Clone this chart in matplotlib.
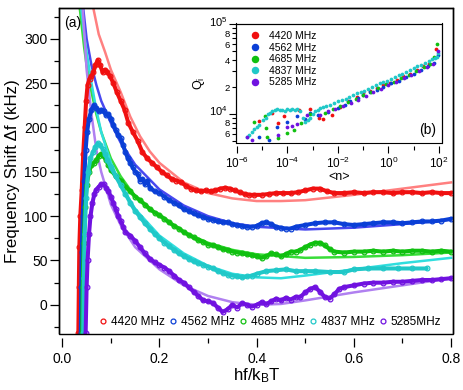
import numpy as np
import matplotlib
matplotlib.use("Agg")
import matplotlib.pyplot as plt
import matplotlib.transforms as mtransforms
from matplotlib.patches import Rectangle
from matplotlib.ticker import MultipleLocator, FixedLocator, FuncFormatter, NullFormatter

plt.rcParams['font.family'] = ['Liberation Sans', 'DejaVu Sans']
plt.rcParams['mathtext.fontset'] = 'custom'
plt.rcParams['mathtext.rm'] = 'Liberation Sans'
plt.rcParams['mathtext.it'] = 'Liberation Sans:italic'

labels = ["4420 MHz", "4562 MHz", "4685 MHz", "4837 MHz", "5285MHz"]
inset_labels = ["4420 MHz", "4562 MHz", "4685 MHz", "4837 MHz", "5285 MHz"]
data_colors = ["#f01010", "#0a3fd6", "#10c010", "#20c8c8", "#7012e0"]
fit_colors = ["#ff8080", "#4848f0", "#38dd38", "#30dede", "#b080f0"]

# ---- main panel: measured frequency shift (kHz) vs hf/kBT ----
red_x = [0.033,0.034,0.035,0.037,0.04,0.043,0.046,0.049,0.052,0.056,0.06,0.064,0.068,0.073,0.078,0.083,0.088,0.093,0.098,0.105,0.112,0.12,0.128,0.136,0.145,0.155,0.165,0.175,0.185,0.195,0.205,0.215,0.225,0.235,0.245,0.255,0.265,0.275,0.285,0.295,0.305,0.315,0.325,0.335,0.345,0.355,0.365,0.375,0.385,0.395,0.41,0.425,0.44,0.455,0.47,0.485,0.5,0.515,0.53,0.545,0.56,0.58,0.6,0.62,0.64,0.66,0.68,0.7,0.72,0.74,0.76,0.78,0.8]
red_y = [-32,20,65,100,130,170,200,230,248,255,258,262,270,276,270,262,265,262,258,250,240,230,220,205,195,185,172,165,160,155,150,146,142,140,138,134,131,129,128,129,128,129,131,132,131,129,127,125,124,124,124,125,126,126,126,127,129,131,131,128,126,126,127,126,127,127,126,127,127,126,127,126,126]

blue_x = [0.038,0.039,0.04,0.042,0.045,0.048,0.051,0.055,0.06,0.065,0.07,0.075,0.08,0.085,0.09,0.095,0.1,0.105,0.11,0.115,0.12,0.125,0.13,0.135,0.14,0.145,0.15,0.155,0.16,0.165,0.17,0.175,0.18,0.19,0.2,0.21,0.22,0.23,0.24,0.25,0.26,0.27,0.28,0.29,0.3,0.31,0.32,0.33,0.34,0.35,0.36,0.37,0.38,0.39,0.4,0.41,0.42,0.43,0.44,0.45,0.46,0.47,0.48,0.5,0.52,0.54,0.56,0.58,0.6,0.62,0.64,0.66,0.68,0.7,0.72,0.74,0.76,0.78,0.8]
blue_y = [-32,20,60,100,140,175,195,210,220,225,222,218,220,218,214,215,210,203,197,192,188,180,172,165,160,155,150,148,140,142,136,140,132,128,126,122,118,115,112,108,106,103,101,99,97,96,94,93,93,91,90,89,88,88,89,92,93,91,88,87,86,86,88,90,92,93,93,91,90,91,92,93,93,92,93,94,94,95,97]

green_x = [0.041,0.042,0.044,0.047,0.05,0.055,0.06,0.065,0.07,0.075,0.08,0.085,0.09,0.095,0.1,0.11,0.12,0.13,0.14,0.15,0.16,0.17,0.18,0.19,0.2,0.21,0.22,0.23,0.24,0.25,0.26,0.27,0.28,0.29,0.3,0.31,0.32,0.33,0.34,0.35,0.36,0.37,0.38,0.39,0.4,0.41,0.42,0.43,0.44,0.45,0.46,0.47,0.48,0.49,0.5,0.51,0.52,0.53,0.54,0.55,0.56,0.58,0.6,0.62,0.64,0.66,0.68,0.7,0.72,0.74,0.76,0.78,0.8]
green_y = [-32,20,70,110,135,150,158,160,163,168,170,168,163,158,152,145,140,133,128,122,118,113,108,104,101,97,93,89,86,82,79,76,73,71,68,67,65,63,62,60,59,58,57,56,55,53,55,58,57,55,57,60,60,62,65,68,70,70,67,63,60,59,60,60,61,60,61,60,61,61,60,61,60]

cyan_x = [0.043,0.044,0.046,0.049,0.053,0.058,0.063,0.068,0.073,0.078,0.083,0.088,0.093,0.1,0.11,0.12,0.13,0.14,0.15,0.16,0.17,0.18,0.19,0.2,0.21,0.22,0.23,0.24,0.25,0.26,0.27,0.28,0.29,0.3,0.31,0.32,0.33,0.34,0.35,0.36,0.37,0.38,0.39,0.4,0.42,0.44,0.46,0.48,0.5,0.52,0.55,0.58,0.6,0.63,0.66,0.69,0.72,0.75]
cyan_y = [-32,30,80,120,150,165,172,178,182,180,176,170,163,155,145,135,125,115,106,99,92,86,80,75,70,66,62,58,55,52,49,47,45,43,41,38,36,34,33,32,31,32,33,35,38,39,40,38,38,38,37,37,40,41,41,41,41,41]

purple_x = [0.048,0.05,0.052,0.055,0.058,0.062,0.066,0.07,0.075,0.08,0.085,0.09,0.095,0.1,0.105,0.11,0.115,0.12,0.125,0.13,0.14,0.15,0.16,0.17,0.18,0.19,0.2,0.21,0.22,0.23,0.24,0.25,0.26,0.27,0.28,0.29,0.3,0.31,0.32,0.33,0.34,0.35,0.36,0.37,0.38,0.39,0.4,0.41,0.42,0.43,0.44,0.45,0.46,0.47,0.48,0.49,0.5,0.51,0.52,0.53,0.54,0.55,0.56,0.57,0.58,0.6,0.62,0.64,0.66,0.68,0.7,0.72,0.74,0.76,0.78,0.8]
purple_y = [-32,20,50,80,100,115,125,130,133,136,136,132,128,122,115,108,100,95,88,82,78,72,65,58,52,48,45,42,38,33,28,25,20,15,10,5,4,2,-3,-8,-5,0,-3,2,0,-2,0,3,1,4,7,5,8,6,9,9,14,18,20,15,9,7,12,18,20,22,24,25,25,26,26,27,28,28,29,30]

# ---- main panel: model fits ----
red_fit_x = [0.064,0.075,0.088,0.1,0.12,0.14,0.16,0.18,0.2,0.25,0.3,0.35,0.4,0.45,0.5,0.6,0.7,0.8]
red_fit_y = [334,305,285,265,240,212,190,173,160,138,126,120,117,117,118,124,131,138]
blue_fit_x = [0.043,0.05,0.06,0.07,0.08,0.1,0.12,0.15,0.2,0.25,0.3,0.35,0.4,0.5,0.6,0.7,0.8]
blue_fit_y = [334,300,270,248,230,205,183,158,130,112,100,92,88,85,87,91,96]
green_fit_x = [0.036,0.045,0.05,0.06,0.07,0.08,0.1,0.12,0.15,0.2,0.25,0.3,0.35,0.4,0.5,0.6,0.7,0.8]
green_fit_y = [334,290,270,240,215,195,165,145,122,100,82,70,62,57,53,54,56,59]
cyan_fit_x = [0.039,0.045,0.05,0.06,0.07,0.08,0.1,0.12,0.15,0.2,0.25,0.3,0.35,0.4,0.45,0.5,0.6,0.7,0.8]
cyan_fit_y = [334,305,285,250,220,195,160,135,108,78,58,44,35,31,30,33,40,47,53]
purple_fit_x = [0.042,0.046,0.05,0.06,0.07,0.08,0.1,0.12,0.15,0.2,0.25,0.3,0.35,0.4,0.45,0.5,0.6,0.7,0.8]
purple_fit_y = [334,300,265,215,175,150,113,90,65,40,22,10,3,0,1,5,14,22,30]

# ---- inset: internal quality factor vs mean photon number ----
red_n = [7.8e-6,2.6e-5,4.4e-5,7.4e-5,3.0e-4,7.9e-4,1.8e-3,2.6e-3,5.6e-3,1.2e-2,2.5e-2,5.5e-2,0.1,0.19,0.34,0.62,1.1,2.1,3.8,7.1,13,24,40,76]
red_q = [8400,10200,7900,9500,11100,11500,9100,8900,9800,12000,13800,15500,17000,18200,19500,20900,22400,24000,26300,28200,30900,33900,36300,53700]
blue_n = [7.6e-6,1.95e-5,4.0e-5,1.0e-4,2.5e-4,5.0e-4,7.9e-4,1.6e-3,4.0e-3,1.0e-2,1.9e-2,3.0e-2,6.3e-2,0.1,0.19,0.34,0.63,1.26,2.5,5.0,10,20,35,63,89]
blue_q = [5500,5100,7200,8200,9500,8700,10200,9800,10500,11700,12600,13800,15100,16200,17400,18600,20000,21900,23400,25700,28200,30900,33900,37200,45700]
green_n = [5.0e-6,1.3e-5,1.5e-5,1.55e-5,4.4e-5,1.0e-4,1.8e-4,3.5e-4,7.9e-4,3.1e-3,6.3e-3,1.26e-2,2.5e-2,5.0e-2,0.1,0.2,0.4,0.8,1.6,3.2,6.3,12.6,25,45,63,85]
green_q = [8100,9500,6900,5600,5400,6200,6600,7900,10000,10200,11500,12300,13500,14800,16200,17800,19500,21400,22900,25100,27500,30200,33100,36300,43700,60300]
cyan_n = [2.5e-6,3.2e-6,3.9e-6,5.0e-6,6.2e-6,7.9e-6,1.1e-5,1.4e-5,1.8e-5,2.1e-5,2.5e-5,3.2e-5,3.8e-5,5.0e-5,6.3e-5,7.9e-5,1.0e-4,1.26e-4,1.6e-4,2.0e-4,2.5e-4,3.2e-4,4.0e-4,5.0e-4,6.3e-4,7.9e-4,1.0e-3,1.26e-3,1.6e-3,2.0e-3,2.6e-3,3.5e-3,5.0e-3,7.1e-3,1.0e-2,1.4e-2,2.0e-2,2.8e-2,4.0e-2,5.6e-2,7.9e-2,0.11,0.16,0.22,0.32,0.45,0.63,0.89,1.26,1.8,2.5,3.5,5.0,7.1,10,14,20,28,40,52,66,79,93]
cyan_q = [5600,5900,6300,6800,7200,7600,8500,9100,10000,10200,10700,11200,11500,11000,11200,10700,11500,11000,11500,11200,11500,10700,9100,8100,8500,9100,10000,10700,11200,11700,12000,12300,12600,13200,13800,14500,14800,15500,16200,17000,17400,18200,19100,20000,20900,21900,22600,23400,24500,25700,26900,28200,29500,30900,32400,33900,35500,37200,38900,40700,41700,42700,47900]
purple_n = [2.5e-6,3.9e-6,4.4e-5,1.0e-4,1.6e-4,2.5e-4,5.9e-4,1.95e-3,4.0e-3,7.9e-3,1.6e-2,3.2e-2,6.3e-2,0.126,0.25,0.5,1.0,2.0,4.0,7.9,15.8,32,56,89]
purple_q = [5600,5100,5900,7100,7400,7700,9800,9800,10700,11500,12300,13200,14500,15800,17400,19100,20900,22900,25100,27500,30200,33100,36300,50100]

W, H = 463, 390
fig = plt.figure(figsize=(W / 100, H / 100), dpi=100)

ax = fig.add_axes([59.3 / W, 1 - 333.5 / H, (453.3 - 59.3) / W, (333.5 - 8.3) / H])
series = [(red_x, red_y), (blue_x, blue_y), (green_x, green_y), (cyan_x, cyan_y), (purple_x, purple_y)]
fits = [(red_fit_x, red_fit_y), (blue_fit_x, blue_fit_y), (green_fit_x, green_fit_y),
        (cyan_fit_x, cyan_fit_y), (purple_fit_x, purple_fit_y)]
handles = []
for (xs, ys), (fx, fy), dc, fc, lab in zip(series, fits, data_colors, fit_colors, labels):
    ax.plot(fx, fy, color=fc, lw=1.8, zorder=2)
    ax.plot(xs, ys, color=dc, lw=2.9, zorder=3, solid_capstyle='round')
    ax.plot(xs, ys, ls='none', marker='o', ms=3.4, mfc='none', mec=dc, mew=0.9, zorder=3)
    h, = ax.plot([], [], ls='none', marker='o', ms=3.5, mfc='none', mec=dc, mew=0.9, label=lab)
    handles.append(h)

ax.set_xlim(-0.0062, 0.8047)
ax.set_ylim(-32.3, 334.3)
ax.xaxis.set_major_locator(MultipleLocator(0.2))
ax.xaxis.set_minor_locator(MultipleLocator(0.1))
ax.yaxis.set_major_locator(MultipleLocator(50))
ax.yaxis.set_minor_locator(MultipleLocator(25))
ax.xaxis.set_major_formatter(FuncFormatter(lambda v, p: f"{v:.1f}"))
ax.tick_params(which='both', direction='out', top=False, right=False, labelsize=10, width=0.9)
ax.tick_params(which='major', length=6.5)
ax.tick_params(which='minor', length=3.5)
ax.tick_params(axis='y', pad=2)
ax.tick_params(axis='x', pad=4)
ax.spines['bottom'].set_position(('outward', 3))
ax.spines['bottom'].set_linewidth(0)
for s in ['left', 'top', 'right']:
    ax.spines[s].set_linewidth(1.0)
ax.add_patch(Rectangle((0, 0), 1, 1, transform=ax.transAxes, fill=False, lw=1.0,
                       ec='black', zorder=10, clip_on=False))
ax.set_ylabel("Frequency Shift \u0394f (kHz)", fontsize=12.2, labelpad=3)
ax.set_xlabel("hf/k$_{\\rm B}$T", fontsize=12.2, labelpad=0)
ax.text(0.012, 0.975, "(a)", transform=ax.transAxes, fontsize=10, va='top', ha='left')
ax.legend(handles=handles, loc='lower left', bbox_to_anchor=(0.085, -0.005), ncol=5,
          frameon=False, fontsize=8.5, handlelength=0.6, handletextpad=0.35,
          columnspacing=0.4, borderaxespad=0.2)

# inset
ins = fig.add_axes([235.5 / W, 1 - 143 / H, (442 - 235.5) / W, (143 - 23.5) / H])
ins.set_facecolor('white')
inset_series = [(red_n, red_q), (blue_n, blue_q), (green_n, green_q), (cyan_n, cyan_q), (purple_n, purple_q)]
for (ns, qs), dc, lab in zip(inset_series, data_colors, inset_labels):
    ins.plot(ns, qs, ls='none', marker='o', ms=2.7, mec='none', mfc=dc, label=lab)
ins.set_xscale('log')
ins.set_yscale('log')
ins.set_xlim(10 ** -6.047, 10 ** 2.115)
ins.set_ylim(10 ** 3.677, 10 ** 5.009)
ins.xaxis.set_major_locator(FixedLocator([10.0 ** k for k in range(-6, 3, 2)]))
ins.xaxis.set_minor_locator(FixedLocator([10.0 ** k for k in range(-5, 2, 2)]))
ins.xaxis.set_major_formatter(FuncFormatter(lambda v, p: f"10$^{{{int(round(np.log10(v)))}}}$"))
ins.xaxis.set_minor_formatter(NullFormatter())
ins.yaxis.set_major_locator(FixedLocator([1e4, 1e5]))
ins.yaxis.set_minor_locator(FixedLocator([m * 10 ** e for e in (3, 4) for m in range(2, 10)]))
ins.yaxis.set_major_formatter(FuncFormatter(lambda v, p: f"10$^{{{int(round(np.log10(v)))}}}$"))
def minor_fmt(v, p):
    m = int(round(v / 10 ** np.floor(np.log10(v))))
    return str(m) if m in (2, 4, 6, 8) else ""
ins.yaxis.set_minor_formatter(FuncFormatter(minor_fmt))
ins.tick_params(which='both', direction='out', top=False, right=False, width=0.8)
ins.tick_params(axis='x', which='major', length=5, labelsize=8.5)
ins.tick_params(axis='x', which='minor', length=3)
ins.tick_params(axis='y', which='major', length=5, labelsize=8)
ins.tick_params(axis='y', which='minor', length=3, labelsize=6.8)
ins.tick_params(axis='y', which='both', pad=1)
ins.tick_params(axis='x', which='both', pad=2)
# lift the decade labels a little so they clear the "8" labels below them
lift = mtransforms.ScaledTranslation(0, 3.5 / 100, fig.dpi_scale_trans)
for lab in ins.yaxis.get_majorticklabels():
    lab.set_transform(lab.get_transform() + lift)
ins.spines['bottom'].set_position(('outward', 2))
ins.spines['bottom'].set_linewidth(0)
for s in ['left', 'top', 'right']:
    ins.spines[s].set_linewidth(0.8)
ins.add_patch(Rectangle((0, 0), 1, 1, transform=ins.transAxes, fill=False, lw=0.8,
                        ec='black', zorder=10, clip_on=False))
ins.set_ylabel("Q$_{\\rm i}$", fontsize=9)
ins.yaxis.set_label_coords(-0.138, 0.5)
ins.set_xlabel("<n>", fontsize=9, labelpad=0)
ins.text(0.97, 0.05, "(b)", transform=ins.transAxes, fontsize=10, ha='right', va='bottom')
ins.legend(loc='upper left', bbox_to_anchor=(0.05, 0.98), frameon=False, fontsize=7.5,
           handlelength=0.8, handletextpad=0.9, labelspacing=0.15, markerscale=2.0,
           borderaxespad=0.1)

fig.savefig("out.png", dpi=100)
